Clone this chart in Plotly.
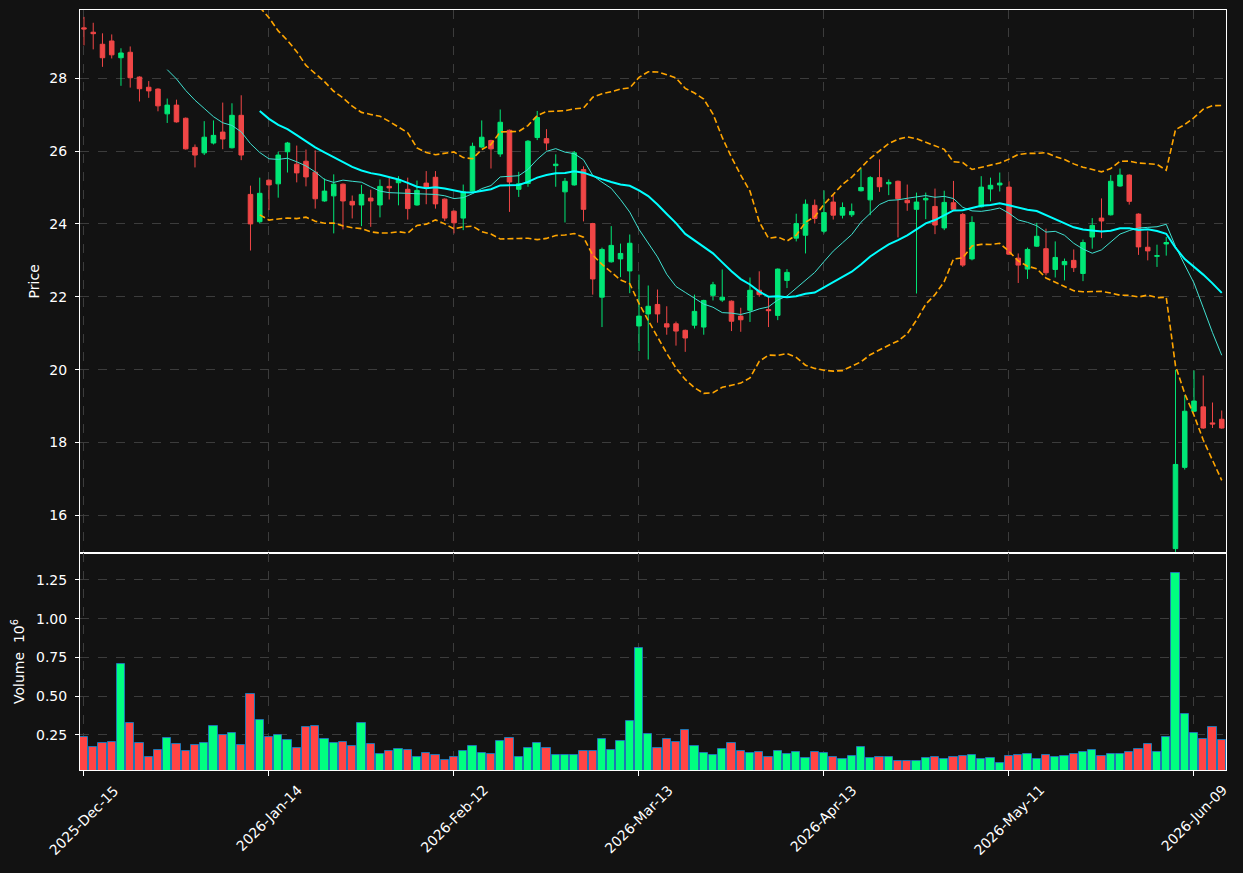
import plotly.graph_objects as go
import pandas as pd

# ---------------- data ----------------
opens = [29.38, 29.26, 28.93, 29.02, 28.56, 28.71, 28.03, 27.75, 27.70, 27.02,
         27.26, 26.90, 26.10, 25.95, 26.22, 26.52, 26.09, 26.98, 24.81, 24.06,
         25.20, 25.10, 25.98, 25.64, 25.72, 25.42, 24.63, 24.77, 25.09, 24.62,
         24.52, 24.71, 24.52, 25.03, 25.13, 24.95, 24.52, 25.12, 25.28, 24.68,
         24.35, 24.16, 24.90, 26.11, 26.29, 25.92, 26.57, 24.95, 25.11, 26.37,
         26.34, 25.60, 24.88, 25.07, 25.49, 24.01, 21.99, 22.96, 23.04, 22.71,
         21.20, 21.53, 21.79, 21.26, 21.26, 21.08, 21.22, 21.17, 22.04, 21.91,
         21.88, 21.47, 21.63, 22.18, 21.65, 21.49, 22.45, 23.61, 23.69, 24.51,
         23.80, 24.60, 24.24, 24.25, 24.91, 24.66, 25.27, 25.10, 25.17, 24.65,
         24.40, 24.66, 24.48, 23.89, 24.58, 24.26, 23.04, 24.47, 24.96, 25.07,
         25.01, 23.06, 22.76, 23.39, 23.32, 22.75, 22.88, 23.00, 22.64, 23.64,
         24.16, 24.25, 25.04, 25.34, 24.27, 23.36, 23.11, 23.45, 15.09, 17.32,
         18.86, 18.98, 18.54, 18.64]
highs = [29.68, 29.52, 29.23, 29.20, 28.82, 28.87, 28.05, 27.92, 27.72, 27.44,
         27.41, 26.92, 26.18, 26.82, 26.84, 27.33, 27.31, 27.53, 25.05, 25.27,
         25.22, 25.98, 26.25, 26.15, 26.04, 26.02, 25.25, 25.36, 25.11, 24.78,
         25.07, 24.94, 25.22, 25.27, 25.31, 25.27, 25.19, 25.45, 25.45, 24.70,
         24.37, 25.08, 26.23, 26.84, 26.31, 27.14, 26.59, 25.43, 26.30, 27.10,
         26.60, 25.91, 25.26, 26.00, 25.58, 24.03, 23.35, 23.94, 23.46, 23.71,
         22.61, 22.31, 22.20, 21.74, 21.32, 21.10, 22.06, 21.92, 22.41, 22.75,
         21.90, 21.70, 22.53, 22.70, 22.00, 22.78, 22.76, 24.28, 24.67, 24.67,
         24.92, 24.79, 24.59, 24.56, 25.52, 25.31, 25.77, 25.22, 25.19, 25.08,
         24.86, 24.86, 24.97, 24.91, 25.18, 24.30, 24.21, 25.31, 25.27, 25.41,
         25.17, 23.19, 23.35, 24.03, 23.87, 23.52, 23.05, 23.30, 23.57, 24.16,
         24.70, 25.34, 25.52, 25.36, 24.29, 23.80, 23.43, 23.64, 20.00, 19.30,
         19.98, 19.84, 19.10, 18.88]
lows = [28.90, 28.79, 28.31, 28.54, 27.79, 27.74, 27.36, 27.46, 27.09, 26.77,
        26.78, 26.04, 25.55, 25.89, 26.18, 26.05, 26.07, 25.75, 23.27, 24.01,
        24.38, 24.72, 25.41, 25.14, 25.03, 24.42, 24.61, 23.74, 23.85, 24.15,
        23.94, 23.92, 24.18, 24.67, 24.51, 24.12, 24.50, 24.54, 24.42, 24.08,
        23.74, 23.83, 24.88, 26.09, 25.52, 25.84, 24.33, 24.74, 25.02, 26.30,
        26.02, 25.02, 24.04, 25.05, 24.07, 22.06, 21.17, 22.94, 22.54, 22.10,
        20.51, 20.28, 21.29, 20.96, 20.66, 20.49, 21.13, 20.96, 21.90, 21.86,
        21.06, 21.04, 21.31, 22.00, 21.17, 21.36, 22.24, 23.52, 23.19, 24.01,
        23.74, 24.12, 24.15, 24.19, 24.89, 24.24, 24.88, 24.79, 23.63, 24.36,
        22.09, 24.13, 23.72, 23.83, 24.35, 22.82, 23.00, 24.45, 24.62, 24.89,
        23.15, 22.38, 22.49, 23.37, 22.59, 22.53, 22.45, 22.68, 22.43, 23.32,
        23.61, 24.23, 25.02, 24.53, 23.15, 23.00, 22.82, 23.13, 15.00, 17.26,
        18.84, 18.38, 18.40, 18.38]
closes = [29.35, 29.22, 28.56, 28.64, 28.69, 28.01, 27.71, 27.65, 27.24, 27.26,
          26.80, 26.06, 25.89, 26.38, 26.43, 26.33, 26.98, 25.89, 24.00, 24.84,
          25.07, 25.89, 26.22, 25.40, 25.29, 24.69, 24.90, 25.09, 24.63, 24.52,
          24.81, 24.63, 25.03, 24.99, 25.22, 24.42, 24.92, 25.00, 24.55, 24.16,
          24.03, 24.88, 26.13, 26.38, 26.06, 26.79, 25.15, 25.10, 26.27, 26.92,
          26.22, 25.64, 25.17, 25.95, 24.40, 22.49, 23.30, 23.41, 23.19, 23.47,
          21.47, 21.74, 21.53, 21.17, 21.06, 20.87, 21.60, 21.90, 22.33, 21.99,
          21.33, 21.37, 22.18, 22.06, 21.62, 22.76, 22.67, 24.01, 24.54, 24.15,
          24.31, 24.24, 24.45, 24.34, 25.00, 25.27, 25.02, 25.14, 24.69, 24.58,
          24.60, 24.70, 23.97, 24.59, 24.40, 22.87, 24.04, 25.01, 25.06, 25.12,
          23.17, 22.87, 23.30, 23.66, 22.66, 23.08, 22.97, 22.80, 23.49, 23.96,
          24.08, 25.17, 25.34, 24.62, 23.37, 23.26, 23.13, 23.49, 17.40, 18.86,
          19.14, 18.40, 18.51, 18.40]
volumes_m = [0.235, 0.170, 0.196, 0.203, 0.710, 0.330, 0.196, 0.110, 0.151, 0.229,
             0.190, 0.145, 0.183, 0.196, 0.306, 0.248, 0.261, 0.183, 0.513, 0.345,
             0.240, 0.248, 0.216, 0.164, 0.300, 0.306, 0.222, 0.196, 0.203, 0.177,
             0.325, 0.190, 0.125, 0.145, 0.158, 0.151, 0.110, 0.132, 0.119, 0.087,
             0.106, 0.145, 0.177, 0.132, 0.125, 0.209, 0.229, 0.106, 0.164, 0.196,
             0.164, 0.119, 0.119, 0.119, 0.145, 0.145, 0.222, 0.151, 0.209, 0.338,
             0.810, 0.254, 0.164, 0.222, 0.203, 0.280, 0.177, 0.132, 0.119, 0.158,
             0.196, 0.145, 0.132, 0.138, 0.106, 0.145, 0.125, 0.138, 0.100, 0.138,
             0.132, 0.106, 0.093, 0.113, 0.170, 0.100, 0.106, 0.106, 0.080, 0.080,
             0.080, 0.100, 0.106, 0.093, 0.106, 0.113, 0.119, 0.093, 0.100, 0.067,
             0.113, 0.119, 0.125, 0.093, 0.119, 0.106, 0.113, 0.125, 0.138, 0.151,
             0.113, 0.125, 0.125, 0.138, 0.158, 0.190, 0.138, 0.235, 1.294, 0.384,
             0.261, 0.222, 0.300, 0.216]
tick_positions = [0, 20, 40, 60, 80, 100, 120]
tick_labels = ["2025-Dec-15", "2026-Jan-14", "2026-Feb-12", "2026-Mar-13",
               "2026-Apr-13", "2026-May-11", "2026-Jun-09"]
price_ticks = [16, 18, 20, 22, 24, 26, 28]
volume_ticks = [0.25, 0.50, 0.75, 1.00, 1.25]

# ---------------- derived series ----------------
x = list(range(len(closes)))
cs = pd.Series(closes)
ma_short = cs.rolling(10).mean()
ma_long = cs.rolling(20).mean()
sd = cs.rolling(20).std()
bb_up = ma_long + 2 * sd
bb_lo = ma_long - 2 * sd

UP = "#00e676"
DOWN = "#f04646"
VUP = "#00ff80"
VDOWN = "#ff4444"
BG = "#121212"
GRID = "#3c3c3c"
FONT = "DejaVu Sans"

vol_colors = [VUP if c >= o else VDOWN for o, c in zip(opens, closes)]

fig = go.Figure()
fig.add_trace(go.Candlestick(
    x=x, open=opens, high=highs, low=lows, close=closes,
    increasing=dict(line=dict(color=UP, width=1), fillcolor=UP),
    decreasing=dict(line=dict(color=DOWN, width=1), fillcolor=DOWN),
    whiskerwidth=0, showlegend=False, xaxis="x", yaxis="y"))
fig.add_trace(go.Scatter(x=x, y=bb_up, mode="lines",
                         line=dict(color="#ffa500", width=1.6, dash="6px,3px"),
                         showlegend=False, xaxis="x", yaxis="y"))
fig.add_trace(go.Scatter(x=x, y=bb_lo, mode="lines",
                         line=dict(color="#ffa500", width=1.6, dash="6px,3px"),
                         showlegend=False, xaxis="x", yaxis="y"))
fig.add_trace(go.Scatter(x=x, y=ma_short, mode="lines",
                         line=dict(color="#40e0d0", width=1),
                         showlegend=False, xaxis="x", yaxis="y"))
fig.add_trace(go.Scatter(x=x, y=ma_long, mode="lines",
                         line=dict(color="#00ffff", width=2),
                         showlegend=False, xaxis="x", yaxis="y"))
fig.add_trace(go.Bar(x=x, y=volumes_m, marker=dict(color=vol_colors,
                     line=dict(color="#1f77b4", width=1)),
                     width=0.9, showlegend=False, xaxis="x2", yaxis="y2"))

xr = [-0.43, 123.46]
axis_common = dict(showline=True, linecolor="white", linewidth=1, mirror=True,
                   showgrid=True, gridcolor=GRID, griddash="dash", gridwidth=1,
                   zeroline=False,
                   tickfont=dict(color="white", size=14, family=FONT))

# date labels centred under their ticks, rotated 45 degrees
annotations = [dict(x=p, y=0, xref="x2", yref="paper", text=t, textangle=-45,
                    showarrow=False, xanchor="center", yanchor="top", yshift=-9,
                    font=dict(color="white", size=14, family=FONT))
               for p, t in zip(tick_positions, tick_labels)]

fig.update_layout(
    width=1243, height=873,
    paper_bgcolor=BG, plot_bgcolor=BG,
    margin=dict(l=80, r=17, t=10, b=103),
    bargap=0,
    font=dict(family=FONT, color="white", size=14),
    annotations=annotations,
    xaxis=dict(domain=[0, 1], anchor="y", range=xr, tickvals=tick_positions,
               showticklabels=False, ticks="", rangeslider=dict(visible=False),
               **axis_common),
    yaxis=dict(domain=[0.286, 1], anchor="x", range=[14.98, 29.87],
               tickvals=price_ticks, ticks="outside", ticklen=4, tickcolor="white",
               ticklabelstandoff=5,
               title=dict(text="Price", standoff=6,
                          font=dict(color="white", size=14, family=FONT)),
               **axis_common),
    xaxis2=dict(domain=[0, 1], anchor="y2", range=xr, matches="x",
                tickvals=tick_positions, showticklabels=False,
                ticks="outside", ticklen=5, tickcolor="white",
                **axis_common),
    yaxis2=dict(domain=[0, 0.2855], anchor="x2", range=[0.024, 1.424],
                tickvals=volume_ticks, ticktext=[f"{v:.2f}" for v in volume_ticks],
                ticks="outside", ticklen=4, tickcolor="white",
                ticklabelstandoff=5,
                title=dict(text="Volume  10<sup>6</sup>", standoff=8,
                           font=dict(color="white", size=14, family=FONT)),
                **axis_common),
)

fig.write_html("out.html")
